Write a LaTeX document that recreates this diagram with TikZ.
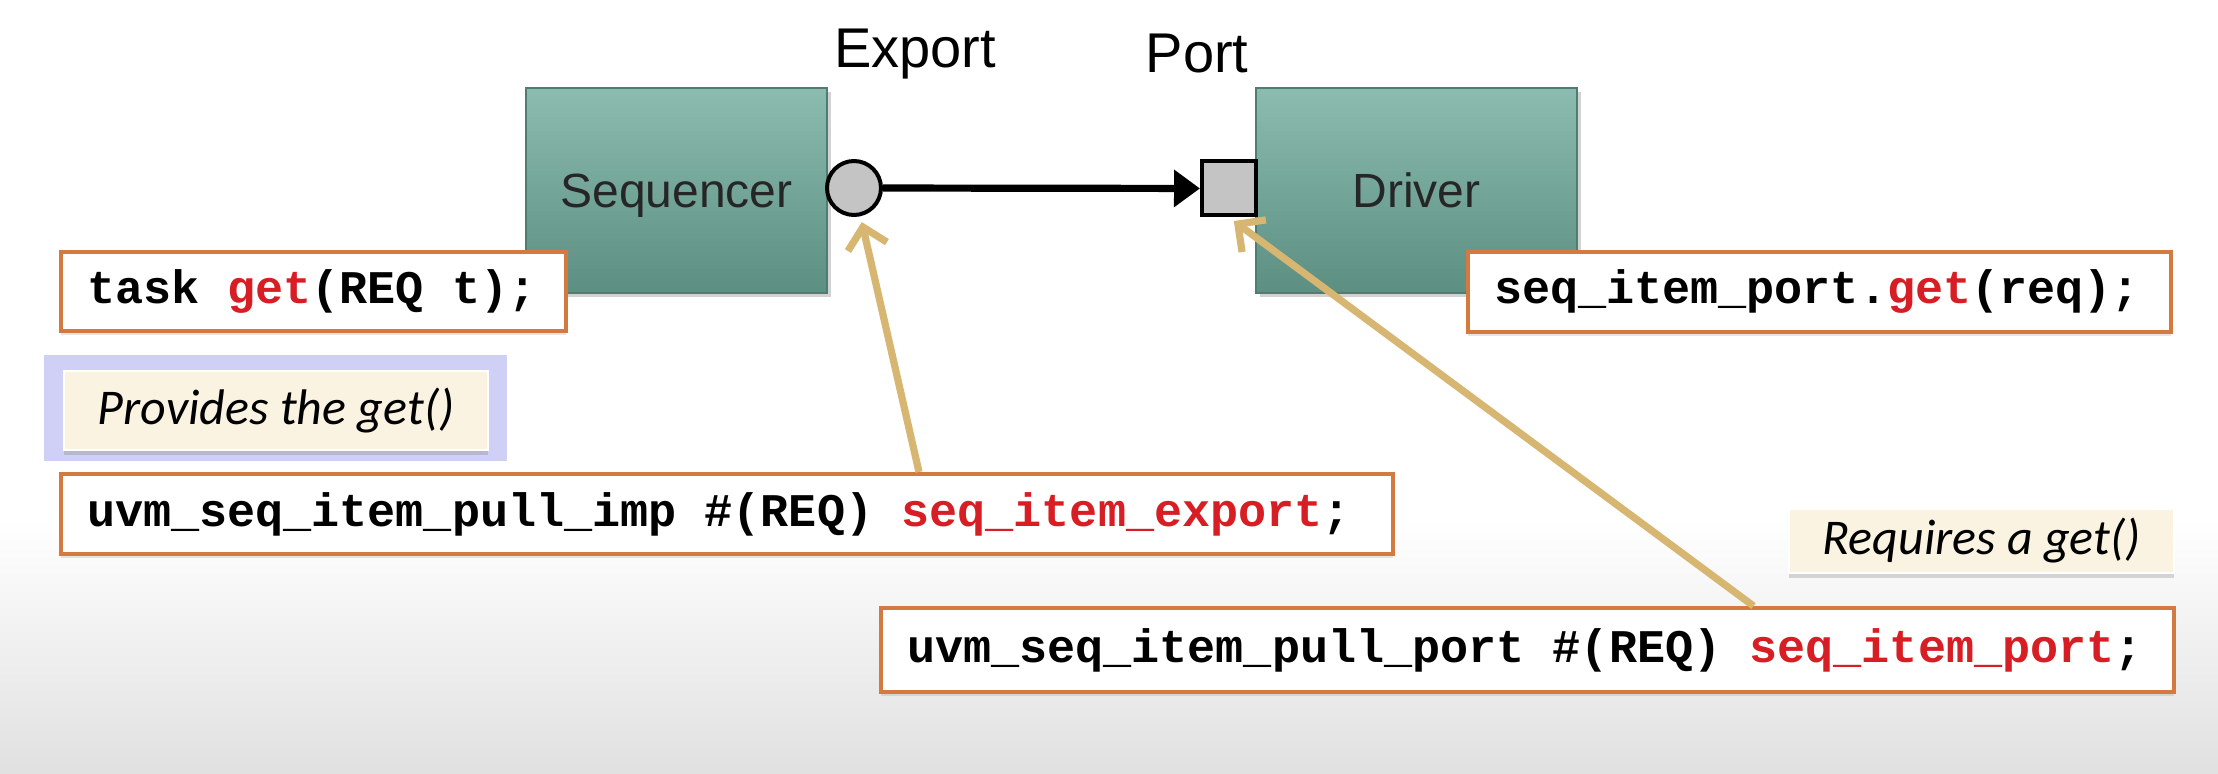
\documentclass[tikz,border=0pt]{standalone}
\usepackage{fontspec}
\newfontfamily\labelfont{Liberation Sans}
\newfontfamily\codefont{Liberation Mono}
\newfontfamily\notefont{Carlito}
\usetikzlibrary{arrows.meta,backgrounds,shadows}
\definecolor{tealtop}{RGB}{140,188,176}
\definecolor{tealbot}{RGB}{92,142,130}
\definecolor{tealedge}{RGB}{80,125,114}
\definecolor{codeorange}{RGB}{212,122,64}
\definecolor{codered}{RGB}{214,30,36}
\definecolor{goldline}{RGB}{214,182,112}
\definecolor{notecream}{RGB}{250,243,226}
\definecolor{glowblue}{RGB}{208,208,246}
\definecolor{portgray}{RGB}{196,196,196}
\newcommand{\redcode}[1]{\textcolor{codered}{#1}}
\newcommand{\codesp}{\hspace*{0.6em}}

\begin{document}
\begin{tikzpicture}[x=0.5pt,y=-0.5pt,
    block/.style={rectangle, top color=tealtop, bottom color=tealbot, draw=tealedge, line width=0.6pt,
      minimum height=102.5pt, text height=17.4pt, text depth=0pt,
      font=\labelfont\fontsize{24}{28}\selectfont, text=black!85,
      drop shadow={shadow xshift=2pt, shadow yshift=-2pt, opacity=0.35}},
    codebox/.style={rectangle, draw=codeorange, line width=2pt, fill=white, inner xsep=13pt,
      minimum height=40pt, align=left, font=\codefont\bfseries\fontsize{23.4}{26}\selectfont,
      drop shadow={shadow xshift=0pt, shadow yshift=-2pt, opacity=0.2}},
    note/.style={rectangle, fill=notecream, draw=white, line width=1pt,
      font=\notefont\itshape\fontsize{25}{28}\selectfont,
      drop shadow={shadow xshift=0pt, shadow yshift=-2.5pt, opacity=0.3}},
    toplabel/.style={font=\labelfont\fontsize{28}{32}\selectfont},
    goldarrow/.style={goldline, line width=3.6pt, -{Straight Barb[length=10pt,width=20pt]}, shorten >=3pt}]
    \useasboundingbox (0,0) rectangle (2218,774);
    % sequencer and driver
    \node[block, minimum width=150.5pt] (seq) at (676.5,190.5) {Sequencer};
    \node[block, minimum width=160.5pt] (drv) at (1416.5,190.5) {Driver};
    \node[circle, fill=portgray, draw=black, line width=2pt, minimum size=27pt, inner sep=0pt] (export) at (854,188) {};
    \node[rectangle, fill=portgray, draw=black, line width=2pt, minimum size=27pt, inner sep=0pt] (port) at (1229,188.5) {};
    \draw[line width=3.6pt, -{Triangle[length=13pt,width=18pt]}] (export) -- (port);
    \node[toplabel] (exportlbl) at (915,54) {Export};
    \node[toplabel] (portlbl) at (1197,54) {Port};
    % code boxes
    \node[codebox, text width=226.5pt, minimum height=39.5pt] (taskget) at (313.5,291.5) {task\codesp\redcode{get}(REQ\codesp t);};
    \node[codebox, text width=325.5pt] (portget) at (1819.5,292) {seq\_item\_port.\redcode{get}(req);};
    \node[codebox, text width=640pt] (impdecl) at (727,514) {uvm\_seq\_item\_pull\_imp\codesp\#(REQ)\codesp\redcode{seq\_item\_export};};
    \node[codebox, text width=620.5pt, minimum height=42pt] (portdecl) at (1527.5,650) {uvm\_seq\_item\_pull\_port\codesp\#(REQ)\codesp\redcode{seq\_item\_port};};
    % notes
    \node[note, minimum width=212pt, minimum height=39.5pt] (provides) at (276,410.5) {Provides the get()};
    \node[note, minimum width=192.5pt, minimum height=32pt] (requires) at (1981.5,541) {Requires a get()};
    % pointers
    \coordinate (impfoot) at ([xshift=96pt]impdecl.north);
    \coordinate (portfoot) at ([xshift=113pt]portdecl.north);
    \draw[goldarrow] (impfoot) -- (export);
    \draw[goldarrow] (portfoot) -- (port.south);
    \begin{scope}[on background layer]
    \fill[white] (0,0) rectangle (2218,774);
    \shade[top color=white, bottom color=black!12] (0,520) rectangle (2218,774);
    \fill[glowblue] ([shift={(-9.5pt,7.5pt)}]provides.north west) rectangle ([shift={(9pt,-5pt)}]provides.south east);
    \end{scope}
\end{tikzpicture}
\end{document}
